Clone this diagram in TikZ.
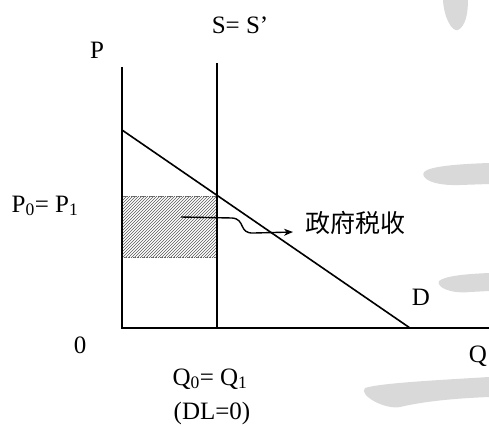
\documentclass[tikz,border=0pt]{standalone}
\usepackage{fontspec}
\setmainfont{Liberation Serif}
\newfontfamily\cjk{Noto Sans CJK SC}
\usetikzlibrary{arrows.meta,patterns}
\begin{document}
\begin{tikzpicture}[x=1pt,y=-1pt,
  axis/.style={line width=1.6pt},
  lbl/.style={inner sep=0pt,font=\fontsize{25}{28}\selectfont},
  wm/.style={fill=black!15,draw=none}]
\useasboundingbox (0,0) rectangle (489,425);
% watermark strokes
\fill[wm] (443,0) .. controls (444,18) and (452,32) .. (458,30) .. controls (466,26) and (468,12) .. (468,0) -- cycle;
\fill[wm] (489,163) .. controls (460,164) and (430,166) .. (424,172) .. controls (420,178) and (432,186) .. (460,185) -- (489,184) -- cycle;
\fill[wm] (489,273) .. controls (465,274) and (445,276) .. (439,281) .. controls (436,287) and (450,294) .. (470,292) -- (489,291) -- cycle;
\fill[wm] (489,377) .. controls (440,380) and (380,383) .. (365,388) .. controls (358,395) and (385,410) .. (400,407) .. controls (430,400) and (465,398) .. (489,397) -- cycle;
% coordinates
\coordinate (O) at (122,328);
\coordinate (Ptop) at (122,67);
\coordinate (Qend) at (489,328);
\coordinate (Stop) at (217,63);
\coordinate (Sbot) at (217,328);
\coordinate (Dtop) at (122,130);
\coordinate (Dbot) at (410,328);
% tax area
\fill[pattern=north east lines,pattern color=black!65] (122,196) rectangle (217,257);
\draw[black!60,densely dotted,line width=0.8pt] (122,196) rectangle (217,257);
% axes and curves
\draw[axis] (Ptop) -- (O) -- (Qend);
\draw[axis] (Stop) -- (Sbot);
\draw[axis] (Dtop) -- (Dbot);
% labels
\node[lbl] (P) at (97,50) {P};
\node[lbl] (S) at (240,25) {S= S’};
\node[lbl] (P0) at (45,206) {P\textsubscript{0}= P\textsubscript{1}};
\node[lbl] (zero) at (80,345) {0};
\node[lbl] (Q0) at (210,379) {Q\textsubscript{0}= Q\textsubscript{1}};
\node[lbl] (DL) at (212,413) {(DL=0)};
\node[lbl] (D) at (421,297) {D};
\node[lbl] (Q) at (478,356) {Q};
\node[inner sep=0pt,font=\cjk\fontsize{25}{28}\selectfont] (tax) at (355,223) {政府税收};
\coordinate (a0) at (181,217);
\coordinate (a1) at (293,232);
\draw[line width=1.4pt,-{Stealth[length=9pt,width=7pt]}] (a0) -- (232,218) .. controls (246,219) and (238,234) .. (254,233) -- (a1);
\end{tikzpicture}
\end{document}
